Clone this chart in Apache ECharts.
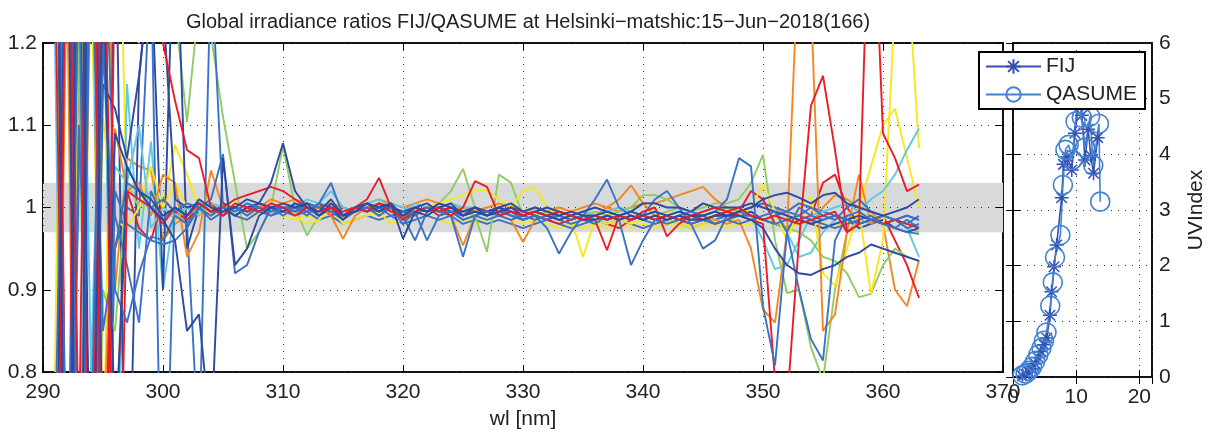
<!DOCTYPE html>
<html><head><meta charset="utf-8">
<script src="https://cdn.jsdelivr.net/npm/echarts@6/dist/echarts.min.js"></script>
<style>html,body{margin:0;padding:0;background:#fff}#c{width:1213px;height:435px}</style>
</head><body><div id="c"></div>
<script>
// ---------------- DATA ----------------
const titleText = 'Global irradiance ratios FIJ/QASUME at Helsinki\u2212matshic:15\u2212Jun\u22122018(166)';
const wl = [291,292,293,294,295,296,297,298,299,300,
 301,302,303,304,305,306,307,308,309,310,
 311,312,313,314,315,316,317,318,319,320,
 321,322,323,324,325,326,327,328,329,330,
 331,332,333,334,335,336,337,338,339,340,
 341,342,343,344,345,346,347,348,349,350,
 351,352,353,354,355,356,357,358,359,360,
 361,362,363];

const rDb1 = [1.8,0.2,1.7,0.5,1.3,0.7,1.05,1.02,1.01,0.99,
 1.0,0.99,1.01,1.0,0.995,1.0,1.01,1.005,1.03,1.078,
 1.02,1.0,0.995,1.01,0.99,0.995,1.005,1.0,1.005,0.99,
 1.0,0.995,1.005,1.0,0.99,0.995,0.99,1.0,1.005,0.995,
 1.0,0.995,0.99,0.995,0.99,0.99,0.995,0.99,0.995,0.99,
 0.995,0.99,0.995,0.99,0.99,0.995,0.99,0.99,0.985,0.975,
 0.95,0.93,0.92,0.918,0.925,0.93,0.94,0.945,0.955,0.95,
 0.945,0.94,0.935];
const rDb2 = [0.5,1.5,0.2,1.9,0.6,1.09,1.05,1.02,1.0,0.985,
 0.96,0.85,0.87,0.72,1.06,0.93,0.95,0.99,1.0,1.005,
 1.0,1.005,0.99,1.0,0.985,1.0,1.005,0.995,1.005,0.962,
 0.995,0.99,1.0,1.005,0.99,1.0,0.99,0.995,1.0,0.99,
 0.995,0.99,0.985,0.99,0.985,0.985,0.99,0.985,0.99,0.985,
 0.99,0.985,0.99,0.985,0.985,0.99,0.99,0.995,1.0,1.01,
 1.015,1.018,1.012,1.005,1.015,1.018,1.005,1.0,0.995,0.99,
 0.995,1.0,1.01];
const rDb3 = [1.6,0.3,1.4,0.4,1.15,1.12,1.06,1.16,1.3,1.25,
 1.01,1.0,1.005,0.995,1.0,0.99,1.0,1.005,1.0,0.995,
 1.005,1.0,0.99,1.005,0.99,1.0,0.995,1.005,1.0,0.995,
 1.0,1.005,0.995,1.0,0.995,1.0,0.995,1.0,0.995,0.99,
 0.995,1.0,0.995,0.99,0.995,1.0,0.995,0.99,0.995,1.005,
 1.005,1.0,1.0,0.995,1.005,1.0,1.0,1.0,1.005,1.0,
 0.995,0.99,0.985,0.98,0.985,0.99,0.985,0.99,0.985,0.98,
 0.985,0.99,0.985];
const rDb4 = [0.1,1.6,0.4,1.7,0.3,1.4,0.5,1.156,1.3,0.9,
 1.4,0.95,1.0,0.99,1.005,1.0,0.995,1.0,0.995,1.0,
 1.0,1.005,1.0,0.995,0.99,0.995,1.0,0.995,1.0,0.995,
 1.0,0.995,1.0,0.995,0.995,1.0,0.995,0.99,0.995,0.99,
 0.995,0.99,0.995,0.99,0.995,0.99,0.985,0.99,0.985,0.99,
 0.985,0.99,0.985,0.99,0.985,0.99,0.995,0.99,0.995,0.985,
 0.98,0.975,0.985,0.98,0.975,0.98,0.985,0.975,0.98,0.985,
 0.975,0.97,0.975];
const rB1 = [0.4,1.7,0.5,1.35,0.85,0.95,1.03,1.02,1.0,1.01,
 0.995,1.005,1.0,0.99,1.0,0.995,1.005,1.0,0.99,1.0,
 1.0,0.995,1.005,1.03,0.99,1.0,0.995,1.0,0.99,0.995,
 0.99,1.0,0.995,0.99,0.94,0.99,0.995,0.99,0.995,0.985,
 0.99,0.985,0.99,0.985,0.99,0.985,0.99,0.985,0.99,0.985,
 0.99,0.985,0.99,0.995,0.99,0.995,1.01,1.06,1.05,0.88,
 0.808,0.97,1.0,0.99,0.985,0.99,0.985,0.98,0.985,0.98,
 0.975,0.985,0.975];
const rB2 = [1.5,0.6,1.3,0.3,1.2,0.9,0.86,0.92,0.965,0.96,
 0.99,0.98,1.0,0.985,0.995,1.0,0.99,1.0,0.995,1.0,
 0.995,1.0,0.99,1.0,0.985,0.995,1.0,0.99,1.0,0.98,
 0.995,0.96,0.99,0.995,0.985,0.99,0.985,0.99,0.985,0.99,
 0.985,0.99,0.985,0.98,0.985,0.98,0.99,0.985,0.93,0.96,
 0.985,0.98,0.985,0.98,0.985,0.98,0.985,0.98,0.985,0.99,
 0.995,0.97,0.9,0.84,0.814,0.96,0.99,0.995,0.985,0.99,
 0.985,0.99,0.985];
const rB3 = [0.7,1.45,0.25,1.6,0.5,1.02,0.98,0.97,0.96,0.955,
 0.96,0.975,1.0,1.01,1.065,0.92,0.93,0.97,1.0,1.0,
 0.995,1.005,1.0,0.995,0.985,1.0,0.995,1.0,1.005,0.985,
 1.0,0.995,1.0,0.995,0.985,0.99,0.995,1.0,0.99,0.985,
 0.99,0.975,0.944,0.97,0.99,1.01,1.034,1.0,0.99,0.985,
 0.98,0.985,0.99,0.985,0.99,0.98,0.985,0.99,0.99,0.985,
 0.98,0.985,0.99,0.985,0.98,0.975,0.98,0.985,0.99,0.98,
 0.975,0.97,0.968];
const rB4 = [1.9,0.4,1.1,0.7,1.4,0.99,0.93,0.86,1.02,0.985,
 1.0,0.99,1.005,0.995,1.0,0.99,1.0,0.995,1.0,0.99,
 1.0,0.99,1.005,1.0,0.99,0.995,1.0,0.995,1.0,0.99,
 0.96,0.995,1.0,0.995,0.99,0.995,0.99,0.995,0.99,0.985,
 0.99,0.985,0.995,0.99,0.985,0.99,0.985,0.99,0.985,0.99,
 1.01,1.02,1.0,0.98,0.95,0.96,0.99,0.995,0.99,0.985,
 0.99,0.995,1.005,1.0,0.99,0.985,1.0,1.01,0.995,0.99,
 0.985,0.975,0.98];
const rB5 = [1.7,0.3,1.05,1.5,0.4,0.95,1.0,0.99,1.3,0.5,
 1.02,0.98,0.7,1.3,1.0,0.99,0.985,0.995,0.99,0.995,
 0.99,0.995,0.985,0.99,0.98,0.985,0.99,0.985,0.99,0.98,
 0.985,0.99,0.985,0.99,0.98,0.985,0.98,0.985,0.98,0.975,
 0.98,0.985,0.98,0.975,0.98,0.985,0.98,0.985,0.98,0.975,
 0.98,0.985,0.98,0.975,0.98,0.985,0.99,0.995,1.0,1.005,
 1.0,0.995,0.99,1.0,0.995,0.99,0.985,0.99,0.985,0.99,
 0.985,0.98,0.99];
const rC1 = [0.3,1.8,0.6,1.5,0.45,1.05,1.03,1.1,0.975,1.0,
 0.99,1.0,0.995,1.005,1.0,0.995,1.005,1.0,0.995,1.005,
 1.0,1.01,1.005,1.02,1.0,0.995,1.005,1.01,1.0,0.995,
 1.005,1.0,1.0,1.005,1.0,1.0,0.995,0.99,1.0,0.995,
 0.995,1.0,0.995,0.99,0.995,0.99,0.995,1.0,0.995,0.99,
 0.995,0.99,0.995,0.99,0.995,1.0,0.995,1.0,0.99,0.96,
 0.925,0.93,0.96,0.99,0.995,1.0,1.005,0.995,1.01,1.02,
 1.04,1.07,1.096];
const rC2 = [1.2,0.2,1.6,0.8,1.3,0.5,1.15,0.95,1.08,0.9,
 1.0,0.98,1.01,0.99,1.0,1.0,0.99,1.005,1.0,0.995,
 1.005,0.995,1.0,0.99,0.995,1.0,1.0,0.995,1.005,1.0,
 0.995,1.0,0.995,1.0,0.99,0.995,0.99,1.0,0.995,0.99,
 0.995,0.99,0.985,0.99,0.985,0.99,0.985,0.99,0.985,0.99,
 0.985,0.99,0.995,0.99,0.985,0.99,0.985,0.99,1.0,1.005,
 1.0,0.97,0.94,0.945,0.97,0.985,0.99,0.985,0.98,0.99,
 0.985,0.975,0.94];
const rG1 = [0.6,1.4,0.3,1.7,1.3,1.25,1.22,1.2,1.25,1.3,
 1.24,1.104,1.25,1.21,1.11,1.03,0.95,0.97,1.0,1.075,
 1.0,0.966,0.99,1.0,0.99,1.0,1.005,0.995,1.0,0.99,
 1.0,0.995,1.005,1.02,1.047,1.0,0.99,0.995,1.0,0.995,
 0.99,0.995,0.99,0.985,0.99,0.985,0.99,0.985,0.99,0.985,
 0.99,0.995,1.0,0.995,1.0,1.005,1.005,1.01,1.03,1.064,
 0.96,0.896,0.9,0.83,0.79,0.9,0.97,0.985,0.99,0.98,
 0.985,0.975,0.97];
const rG2 = [1.5,0.5,1.2,0.2,0.9,0.85,1.03,1.0,1.02,1.0,
 0.985,1.0,0.99,1.005,1.0,0.99,1.0,0.995,1.005,1.0,
 0.995,1.0,0.99,1.0,0.99,0.995,1.0,1.005,1.0,0.995,
 1.0,0.995,1.0,1.005,0.995,0.99,0.946,1.04,1.03,0.99,
 1.0,0.995,0.99,0.995,0.99,0.995,0.99,0.995,1.0,1.015,
 1.015,1.01,1.0,0.995,0.99,0.995,1.0,0.995,0.99,0.985,
 0.98,0.975,0.97,0.96,0.94,0.935,0.92,0.891,0.895,0.93,
 0.95,0.94,0.935];
const rY1 = [1.5,0.1,1.4,0.5,1.108,0.984,0.975,1.0,1.05,1.0,
 1.03,1.0,1.005,0.99,1.0,1.005,1.0,0.995,1.005,1.0,
 0.99,0.98,0.985,1.0,0.98,0.985,0.99,0.995,0.98,0.985,
 0.99,1.0,1.005,1.01,1.015,1.02,1.02,1.01,1.0,1.02,
 1.025,1.0,0.99,0.985,0.94,0.985,0.98,0.985,0.98,0.985,
 0.98,0.985,0.98,0.975,0.98,0.985,0.98,0.99,1.0,1.028,
 0.996,0.96,1.0,1.013,0.92,0.905,0.95,0.998,0.895,0.96,
 1.25,1.3,1.072];
const rY2 = [0.8,1.9,0.5,1.3,0.6,1.6,1.0,0.99,1.01,1.0,
 1.076,1.04,1.0,0.995,1.0,0.99,0.985,0.995,1.0,0.99,
 0.985,0.99,0.985,0.99,0.98,0.985,0.99,0.985,0.99,0.98,
 0.985,0.99,0.985,0.98,0.985,0.98,0.985,0.99,0.985,0.98,
 0.985,0.98,0.975,0.98,0.975,0.98,0.975,0.98,0.975,0.98,
 0.975,0.98,0.975,0.98,0.975,0.98,0.975,0.98,0.98,0.985,
 0.99,0.975,0.98,0.985,0.98,0.975,0.985,1.0,1.05,1.1,
 1.12,1.06,1.0];
const rO1 = [0.4,1.3,0.1,1.5,0.7,1.096,1.02,1.03,0.99,1.04,
 1.03,0.94,0.97,1.045,1.0,0.99,1.0,1.005,0.995,1.0,
 1.0,0.995,1.0,0.99,0.962,0.99,1.0,1.005,0.995,0.99,
 0.995,1.0,0.995,0.99,0.954,0.99,0.995,0.99,0.985,0.958,
 0.985,0.99,0.985,0.99,0.985,0.99,1.0,1.01,1.027,1.005,
 0.99,0.985,0.99,0.985,0.99,0.985,0.98,0.985,0.95,0.876,
 0.86,0.97,1.32,1.25,0.85,0.87,0.97,1.04,0.98,0.99,
 0.985,0.98,0.976];
const rO2 = [1.7,0.55,1.25,0.3,1.8,0.9,1.06,1.05,1.045,0.96,
 0.98,0.99,1.0,0.995,1.005,1.0,0.995,1.0,1.01,1.005,
 1.01,1.005,1.0,1.005,1.0,0.995,1.005,1.01,1.005,1.0,
 1.005,1.01,1.005,1.0,1.0,0.995,1.0,1.005,1.0,0.995,
 1.0,0.995,1.0,0.995,1.0,1.005,1.0,0.995,1.0,1.005,
 1.005,1.01,1.015,1.02,1.025,1.01,1.0,0.995,1.0,1.005,
 1.0,0.99,0.985,0.98,1.0,1.015,1.01,1.0,0.995,0.98,
 0.9,0.88,0.936];
const rR1 = [1.3,0.4,1.9,0.2,1.6,0.3,1.02,1.01,1.0,0.98,
 1.0,0.99,1.005,0.995,1.0,1.01,1.015,1.02,1.025,1.02,
 1.01,1.0,0.99,1.0,0.995,1.0,1.01,1.036,1.0,0.985,
 0.995,1.0,0.995,1.0,0.99,0.995,0.99,0.995,1.0,0.995,
 0.99,0.985,0.99,0.985,0.99,0.985,0.948,0.99,0.985,0.99,
 0.985,0.99,0.985,0.99,0.985,0.99,0.995,0.99,0.985,0.98,
 0.79,0.76,0.96,1.124,1.16,1.07,0.97,0.98,0.985,0.98,
 0.985,0.98,0.975];
const rR2 = [0.2,1.5,0.7,1.8,0.4,1.3,1.25,1.35,1.3,1.2,
 1.13,1.07,1.06,1.0,0.99,1.005,1.0,0.995,1.005,1.0,
 0.99,1.0,0.995,1.0,0.99,1.0,0.995,1.005,0.995,0.99,
 1.0,0.995,1.0,0.99,1.0,1.032,1.025,0.99,0.995,0.99,
 0.995,0.99,0.995,0.99,0.985,0.99,0.985,0.99,0.985,0.995,
 1.0,0.965,0.98,0.99,0.995,1.0,0.995,1.0,0.99,0.985,
 0.99,0.985,0.98,0.985,0.99,0.995,0.97,0.98,1.45,1.09,
 1.06,1.02,1.028];
const rR3 = [1.9,0.5,1.2,0.6,1.4,0.7,1.02,0.975,0.96,1.01,
 0.995,0.985,1.0,1.005,0.99,1.0,0.995,1.005,1.0,0.995,
 1.0,0.995,1.005,0.99,1.0,0.995,1.0,0.99,1.0,0.99,
 0.995,1.0,0.99,0.995,0.99,1.0,0.995,1.0,0.99,0.985,
 0.99,0.985,0.98,0.985,0.99,0.985,0.98,0.975,0.985,0.99,
 0.985,0.99,0.985,0.98,0.985,0.98,0.985,0.995,1.02,1.01,
 0.98,0.975,0.985,0.99,1.03,1.04,1.0,0.98,0.985,0.99,
 0.96,0.93,0.89];

const bandLow = 0.97, bandHigh = 1.03;

// UV index panel (x: hour)
const fijHour = [1.5,2.0,2.5,3.0,3.5,4.0,4.4,4.9,5.35,5.85,6.1,6.5,6.9,7.7,8.0,8.6,9.3,9.8,10.5,10.9,11.4,11.9,12.3,12.75,13.4];
const fijUV   = [0.02,0.05,0.09,0.15,0.24,0.35,0.46,0.58,0.7,1.11,1.53,1.98,2.37,3.22,3.82,3.95,3.72,4.38,5.0,4.7,3.9,4.45,3.98,3.66,4.3];
const qasHour = [1.5,2.0,2.5,3.0,3.5,4.0,4.5,4.9,5.3,5.9,6.3,6.65,7.5,7.9,8.3,8.8,9.4,9.9,10.4,10.9,11.4,12.2,12.7,13.6,13.8];
const qasUV   = [0.03,0.06,0.11,0.18,0.28,0.4,0.52,0.65,0.8,1.28,1.7,2.15,2.55,3.45,4.08,4.17,3.9,4.59,5.1,4.66,4.12,4.68,3.8,4.55,3.15];

// ---------------- STYLE ----------------
const C = {db:'#2c4a9f', b:'#3b72c6', c:'#5ec8e5', g:'#8fcd62', y:'#f7e81e', o:'#f7861f', r:'#ec1c24'};
const ratioList = [
  [rG1,C.g],[rY2,C.y],[rO2,C.o],[rC2,C.c],[rB5,C.b],[rDb4,C.db],[rR3,C.r],
  [rG2,C.g],[rY1,C.y],[rO1,C.o],[rC1,C.c],[rB4,C.b],[rB3,C.b],[rDb3,C.db],
  [rR1,C.r],[rB2,C.b],[rB1,C.b],[rDb2,C.db],[rR2,C.r],[rDb1,C.db]
];
const FONT = 'Liberation Sans, Arial, Helvetica, sans-serif';
const TXT = '#222';
const dotted = {show:true, lineStyle:{type:[1,6], color:'#333', width:1}};
const tick = {show:true, inside:true, length:7, lineStyle:{color:'#000', width:1}};

const series = [];
series.push({
  type:'line', xAxisIndex:0, yAxisIndex:0, z:1, silent:true,
  data:[[290,1],[370,1]], symbol:'none', lineStyle:{opacity:0},
  markArea:{silent:true, itemStyle:{color:'#d8d9da'}, data:[[{yAxis:bandLow},{yAxis:bandHigh}]]}
});
ratioList.forEach(([arr,col])=>{
  series.push({
    type:'line', xAxisIndex:0, yAxisIndex:0, z:3, silent:true, clip:true,
    symbol:'none', animation:false,
    lineStyle:{color:col, width:1.9}, itemStyle:{color:col},
    data: wl.map((w,i)=>[w, arr[i]])
  });
});
const starPath = 'path://M0,-10L0,10M-10,0L10,0M-7.5,-7.5L7.5,7.5M-7.5,7.5L7.5,-7.5';
series.push({
  name:'FIJ', type:'line', xAxisIndex:2, yAxisIndex:2, z:4, clip:true,
  symbol:starPath, symbolSize:14, showAllSymbol:true,
  lineStyle:{color:'#3550b0', width:1.6},
  itemStyle:{color:'rgba(0,0,0,0)', borderColor:'#3550b0', borderWidth:1.5},
  data: fijHour.map((h,i)=>[h, fijUV[i]])
});
series.push({
  name:'QASUME', type:'line', xAxisIndex:2, yAxisIndex:2, z:4, clip:true,
  symbol:'circle', symbolSize:19, showAllSymbol:true,
  lineStyle:{color:'#4282d2', width:1.6},
  itemStyle:{color:'rgba(0,0,0,0)', borderColor:'#4282d2', borderWidth:1.6},
  data: qasHour.map((h,i)=>[h, qasUV[i]])
});

const L = {left:43, top:43, width:960, height:334};
const R = {left:1013, top:43, width:139, height:334};

const option = {
  animation:false,
  backgroundColor:'#fff',
  textStyle:{fontFamily:FONT},
  title:{text:titleText, left:523, top:7, textAlign:'center',
    textStyle:{fontFamily:FONT, fontSize:20, fontWeight:'normal', color:TXT}},
  legend:{
    data:['FIJ','QASUME'], orient:'vertical', left:979, top:52,
    backgroundColor:'#fff', borderColor:'#000', borderWidth:2,
    padding:[4,8,4,6], itemWidth:55, itemHeight:18, itemGap:7, z:10,
    textStyle:{fontFamily:FONT, fontSize:21, color:TXT}
  },
  grid:[
    Object.assign({show:true, borderColor:'#111', borderWidth:2, backgroundColor:'transparent'}, L),
    Object.assign({show:true, borderColor:'#111', borderWidth:2, backgroundColor:'transparent'}, R)
  ],
  xAxis:[
    {type:'value', gridIndex:0, position:'bottom', min:290, max:370, interval:10, z:2,
     axisLine:{show:false}, axisTick:tick, splitLine:dotted,
     axisLabel:{fontSize:21, color:TXT, margin:10},
     name:'wl [nm]', nameLocation:'middle', nameGap:37, nameTextStyle:{fontSize:21, color:TXT}},
    {type:'value', gridIndex:0, position:'top', min:290, max:370, interval:10, z:2,
     axisLine:{show:false}, axisTick:tick, splitLine:{show:false}, axisLabel:{show:false}},
    {type:'value', gridIndex:1, position:'bottom', min:0, max:22, interval:10, z:2,
     axisLine:{show:false}, axisTick:tick, splitLine:dotted,
     axisLabel:{fontSize:21, color:TXT, margin:10, showMaxLabel:false}},
    {type:'value', gridIndex:1, position:'top', min:0, max:22, interval:10, z:2,
     axisLine:{show:false}, axisTick:tick, splitLine:{show:false}, axisLabel:{show:false}}
  ],
  yAxis:[
    {type:'value', gridIndex:0, position:'left', min:0.8, max:1.2, interval:0.1, z:2,
     axisLine:{show:false}, axisTick:tick, splitLine:dotted,
     axisLabel:{fontSize:21, color:TXT, margin:6}},
    {type:'value', gridIndex:0, position:'right', min:0.8, max:1.2, interval:0.1, z:2,
     axisLine:{show:false}, axisTick:tick, splitLine:{show:false}, axisLabel:{show:false}},
    {type:'value', gridIndex:1, position:'right', min:0, max:6, interval:1, z:2,
     axisLine:{show:false}, axisTick:tick, splitLine:dotted,
     axisLabel:{fontSize:21, color:TXT, margin:7},
     name:'UVIndex', nameLocation:'middle', nameGap:34, nameRotate:90,
     nameTextStyle:{fontSize:21, color:TXT}},
    {type:'value', gridIndex:1, position:'left', min:0, max:6, interval:1, z:2,
     axisLine:{show:false}, axisTick:tick, splitLine:{show:false}, axisLabel:{show:false}}
  ],
  series: series
};
const chart = echarts.init(document.getElementById('c'), null, {renderer:'canvas'});
chart.setOption(option);
</script></body></html>
